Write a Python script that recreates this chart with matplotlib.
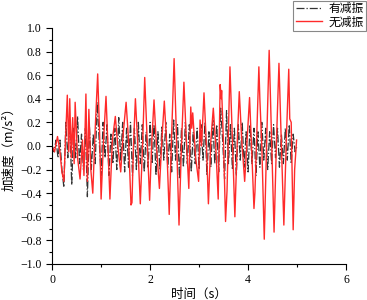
import numpy as np
import matplotlib.pyplot as plt
from matplotlib.ticker import MultipleLocator

# 无减振 (red) - waypoints
t_red = [0.00, 0.05, 0.11, 0.16, 0.20, 0.24, 0.31, 0.34, 0.36, 0.39, 0.42, 0.45, 0.47,
         0.52, 0.57, 0.62, 0.65, 0.69, 0.72, 0.75, 0.79, 0.83, 0.88, 0.93, 0.97, 1.00,
         1.05, 1.10, 1.14, 1.18, 1.23, 1.29, 1.34, 1.40, 1.45, 1.51, 1.56, 1.61, 1.63,
         1.66, 1.70, 1.75, 1.80, 1.85, 1.89, 1.94, 1.99, 2.03, 2.08, 2.13, 2.19, 2.24,
         2.29, 2.34, 2.39, 2.44, 2.49, 2.54, 2.59, 2.64, 2.69, 2.74, 2.79, 2.83, 2.85,
         2.87, 2.93, 2.99, 3.02, 3.05, 3.10, 3.15, 3.19, 3.24, 3.29, 3.34, 3.39, 3.43,
         3.45, 3.46, 3.50, 3.54, 3.57, 3.63, 3.68, 3.73, 3.78, 3.82, 3.87, 3.93, 3.98,
         4.03, 4.07, 4.12, 4.14, 4.17, 4.22, 4.24, 4.28, 4.33, 4.38, 4.43, 4.48, 4.53,
         4.58, 4.63, 4.68, 4.73, 4.78, 4.83, 4.85, 4.88, 4.92, 4.95, 4.99]
a_red = [0.00, -0.05, 0.08, -0.05, -0.22, -0.30, 0.43, -0.05, 0.40, -0.10, 0.24, -0.15, 0.37,
         -0.10, -0.28, 0.05, -0.25, 0.44, -0.30, 0.31, -0.20, -0.40, 0.15, 0.61, 0.10, -0.45,
         0.05, 0.42, 0.00, -0.45, 0.05, 0.25, 0.00, -0.22, 0.10, 0.37, 0.05, -0.50, -0.48,
         0.00, 0.40, 0.00, -0.49, 0.05, 0.58, 0.05, -0.46, 0.00, 0.39, 0.00, -0.36, 0.05,
         0.38, 0.00, -0.58, 0.10, 0.74, 0.05, -0.67, 0.00, 0.54, 0.05, -0.36, 0.33, 0.15,
         0.28, -0.10, -0.30, 0.22, 0.00, 0.45, 0.00, -0.49, 0.05, 0.32, 0.00, -0.45, 0.52,
         0.40, 0.47, 0.00, -0.64, -0.38, 0.67, 0.05, -0.60, 0.05, 0.46, 0.05, -0.30, 0.05,
         0.41, 0.00, -0.53, -0.39, 0.00, 0.67, 0.40, 0.00, -0.79, 0.05, 0.81, 0.05, -0.73,
         0.05, 0.70, 0.00, -0.67, 0.05, 0.65, 0.23, 0.20, -0.71, -0.20, 0.05]

# 有减振 (black dash-dot), 0.04 s steps
a_blk = [0.00, -0.05, 0.05, -0.10, 0.05, -0.20, -0.35, 0.20, -0.10, 0.22, -0.33, 0.15,
         -0.10, 0.25, -0.15, 0.10, -0.20, 0.15, -0.43, 0.18, -0.20, 0.10, -0.15, 0.37,
         0.05, -0.25, 0.20, -0.10, 0.18, -0.25, 0.10, -0.15, 0.15, -0.20, 0.24, -0.12,
         0.20, -0.22, 0.15, -0.18, 0.20, -0.25, 0.15, -0.20, 0.20, -0.15, 0.18, -0.22,
         0.12, -0.18, 0.20, -0.15, 0.18, -0.25, 0.12, -0.20, 0.16, -0.12, 0.20, -0.18,
         0.10, -0.22, 0.22, -0.12, 0.18, -0.28, 0.15, -0.18, 0.20, -0.15, 0.18, -0.22,
         0.12, -0.15, 0.15, -0.20, 0.18, -0.12, 0.20, -0.25, 0.12, -0.18, 0.22, -0.15,
         0.18, -0.22, 0.32, 0.05, -0.28, 0.30, -0.15, 0.18, -0.20, 0.15, -0.25, 0.18,
         -0.12, 0.20, -0.18, 0.12, -0.22, 0.18, -0.15, 0.15, -0.25, 0.12, -0.18, 0.20,
         -0.12, 0.15, -0.20, 0.12, -0.15, 0.18, -0.10, 0.15, -0.18, 0.10, -0.15, 0.15,
         -0.12, 0.18, -0.15, 0.10, -0.05, 0.00]
t_blk = [0.04 * i for i in range(len(a_blk))]

fonts = ['Liberation Serif', 'Noto Sans CJK SC']
plt.rcParams['font.family'] = fonts

fig = plt.figure(figsize=(3.67, 3.0), dpi=100)
ax = fig.add_axes([0.142, 0.12, 0.801, 0.787])

ax.plot(t_blk, a_blk, color='#333333', linestyle='-.', linewidth=0.9, label='有减振')
ax.plot(t_red, a_red, color='#ff2a2a', linewidth=1.0, label='无减振')

ax.set_xlim(0, 6)
ax.set_ylim(-1.0, 1.0)
ax.xaxis.set_major_locator(MultipleLocator(2))
ax.xaxis.set_minor_locator(MultipleLocator(1))
ax.yaxis.set_major_locator(MultipleLocator(0.2))
ax.yaxis.set_minor_locator(MultipleLocator(0.1))
ax.yaxis.set_major_formatter(plt.FuncFormatter(lambda v, p: f'{v:.1f}'.replace('-', '\u2212')))
ax.tick_params(which='major', direction='out', length=4, width=0.8, labelsize=8.5)
ax.tick_params(which='minor', direction='out', length=2, width=0.8)
ax.spines['top'].set_visible(False)
ax.spines['right'].set_visible(False)

cjk = ['Noto Sans CJK SC', 'DejaVu Sans']
ax.set_xlabel('时间（s）', fontsize=9, labelpad=1, family=cjk)
ax.set_ylabel('加速度（m/s²）', fontsize=9, labelpad=3, family=cjk)

leg = ax.legend(loc='upper right', bbox_to_anchor=(0.998, 0.997), bbox_transform=fig.transFigure,
                fontsize=8.5, fancybox=False, edgecolor='#888888', framealpha=1,
                borderpad=0.2, handlelength=2.2, handletextpad=0.6, labelspacing=0.1,
                borderaxespad=0)
leg.get_frame().set_linewidth(0.8)

plt.savefig('out.png', dpi=100)
plt.close('all')
